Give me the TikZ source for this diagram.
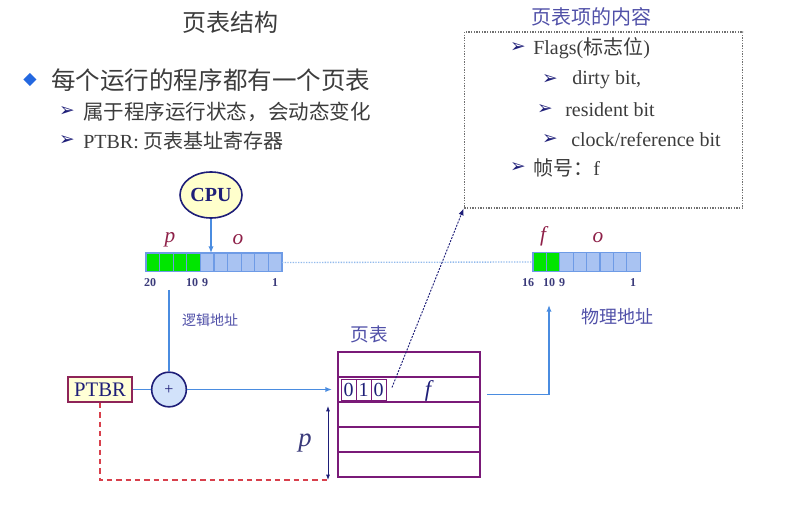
\documentclass[tikz,border=0pt]{standalone}
\usepackage{fontspec}
\setmainfont{Liberation Serif}
\newfontfamily\cjk{Noto Sans CJK SC}
\newfontfamily\dejavu{DejaVu Sans}
\usetikzlibrary{arrows.meta,positioning,calc,shapes.geometric}
\newcommand{\fsz}[1]{\fontsize{#1}{#1}\selectfont}
\definecolor{txtgray}{HTML}{3C3C3C}
\definecolor{navy}{HTML}{1E1E78}
\definecolor{lblblue}{HTML}{5050A8}
\definecolor{numblue}{HTML}{3A3A7A}
\definecolor{lineblue}{HTML}{4A8CE0}
\definecolor{regblue}{HTML}{A9C3F2}
\definecolor{regedge}{HTML}{6E9BE6}
\definecolor{bitgreen}{HTML}{00E600}
\definecolor{tblpurple}{HTML}{7A1A78}
\definecolor{dashred}{HTML}{D8404C}
\definecolor{cpufill}{HTML}{FFFFCC}
\definecolor{addfill}{HTML}{D2E2FA}
\definecolor{ptbrfill}{HTML}{FFFFD6}
\definecolor{ptbredge}{HTML}{8E2458}
\definecolor{varred}{HTML}{8E2048}
\definecolor{diamblue}{HTML}{2468E0}
\definecolor{boxgray}{HTML}{707070}
\tikzset{
  heading/.style ={font=\cjk\fsz{18},text=txtgray,inner sep=0},
  dmark/.style   ={font=\dejavu\fsz{13},text=diamblue,inner sep=0},
  abullet/.style ={font=\dejavu\fsz{14},text=navy,inner sep=0},
  bigline/.style ={font=\fsz{18.4},text=txtgray,anchor=west,inner sep=0},
  midline/.style ={font=\fsz{15},text=txtgray,anchor=west,inner sep=0},
  lbl/.style     ={text=lblblue,inner sep=0},
  num/.style     ={font=\bfseries\fsz{9},text=numblue,inner sep=0},
  var/.style     ={font=\itshape\fsz{16},text=varred,inner sep=0},
  cell/.style    ={draw=regedge,fill=regblue,line width=0.8pt,inner sep=0,outer sep=0,
                   minimum height=14.2pt},
  row/.style     ={draw=tblpurple,line width=2.2pt,inner sep=0,outer sep=0,
                   minimum width=106.5pt,minimum height=18.75pt},
  bit/.style     ={draw=tblpurple,line width=0.5pt,inner sep=0,outer sep=0,font=\fsz{15},
                   text=navy,minimum width=11.2pt,minimum height=16pt},
  link/.style    ={draw=lineblue,line width=1pt},
  arr/.style     ={link,-{Latex[length=5pt,width=4pt]}},
  entrybox/.style={draw=boxgray,dash pattern=on 1pt off 1pt,line width=0.8pt,
                   minimum width=209pt,minimum height=132pt}
}
\begin{document}
\begin{tikzpicture}[x=0.75pt,y=-0.75pt]
  \useasboundingbox (0,0) rectangle (797,506);
  % heading and bullets
  \node[heading] (title) at (230,22) {页表结构};
  \node[dmark]   (d1) at (30,80) {◆};
  \node[bigline,font=\cjk\fsz{18.4}] (t1) at (51,80) {每个运行的程序都有一个页表};
  \node[abullet] (b1) at (67,112) {➢};
  \node[midline,font=\cjk\fsz{15.4}] (t2) at (83,112) {属于程序运行状态，会动态变化};
  \node[abullet] (b2) at (67,141) {➢};
  \node[midline] (t3) at (83,141) {PTBR: {\cjk 页表基址寄存器}};

  % page table entry contents
  \node[entrybox] (entry) at (603.5,120) {};
  \node[lbl,font=\cjk\fsz{15}] (etitle) at (591,17) {页表项的内容};
  \node[abullet] (e1b) at (518,48)  {➢};
  \node[midline] (e1)  at (533,48)  {Flags({\cjk 标志位})};
  \node[abullet] (e2b) at (550,80)  {➢};
  \node[midline] (e2)  at (572,80)  {dirty bit,};
  \node[abullet] (e3b) at (545,110) {➢};
  \node[midline] (e3)  at (565,110) {resident bit};
  \node[abullet] (e4b) at (550,140) {➢};
  \node[midline] (e4)  at (571,140) {clock/reference bit};
  \node[abullet] (e5b) at (518,168) {➢};
  \node[midline] (e5)  at (533,168) {{\cjk 帧号：}f};

  % CPU and logical address
  \node[ellipse,draw=navy,fill=cpufill,line width=1.2pt,minimum width=46.5pt,minimum height=34.5pt,
        font=\bfseries\fsz{15},text=navy,inner sep=0] (cpu) at (211,195) {CPU};
  \foreach \i in {1,...,4}
    \node[cell,fill=bitgreen,minimum width=10.2pt] (la\i) at ({146+13.6*(\i-0.5)},262.5) {};
  \foreach \i in {5,...,10}
    \node[cell,minimum width=10.2pt] (la\i) at ({146+13.6*(\i-0.5)},262.5) {};
  \node[var] (lp) at (170,240) {p};
  \node[var] (lo) at (238,240) {o};
  \node[num] (lhi)   at (150,283) {20};
  \node[num] (lmid)  at (192,283) {10};
  \node[num] (lnine) at (205,283) {9};
  \node[num] (llo)   at (275,283) {1};
  \node[lbl,font=\cjk\fsz{10.5}] (laddr) at (210,320) {逻辑地址};

  % physical address
  \foreach \i in {1,2}
    \node[cell,fill=bitgreen,minimum width=10.05pt] (pa\i) at ({533+13.4*(\i-0.5)},262) {};
  \foreach \i in {3,...,8}
    \node[cell,minimum width=10.05pt] (pa\i) at ({533+13.4*(\i-0.5)},262) {};
  \node[var] (pf) at (543,236) {f};
  \node[var] (po) at (598,238) {o};
  \node[num] (phi)   at (528,283) {16};
  \node[num] (pn10)  at (549,283) {10};
  \node[num] (pnine) at (562,283) {9};
  \node[num] (plo)   at (633,283) {1};
  \node[lbl,font=\cjk\fsz{13.5}] (paddr) at (617,317) {物理地址};

  % PTBR and adder
  \node[draw=ptbredge,fill=ptbrfill,line width=1.3pt,minimum width=48pt,minimum height=18.75pt,
        inner sep=0,font=\fsz{15.5},text=navy] (ptbr) at (100,389.5) {PTBR};
  \node[circle,draw=navy,fill=addfill,line width=1.2pt,minimum size=26pt,inner sep=0,
        font=\fsz{12},text=navy] (adder) at (169,389.5) {+};

  % page table
  \foreach \i in {1,...,5}
    \node[row] (row\i) at (409,{352+25*(\i-0.5)}) {};
  \node[lbl,font=\cjk\fsz{14}] (ptlabel) at (369,334) {页表};
  \node[bit] (bit1) at (348.5,389.5) {0};
  \node[bit] (bit2) at (363.5,389.5) {1};
  \node[bit] (bit3) at (378.5,389.5) {0};
  \node[font=\itshape\fsz{17},text=navy,inner sep=0] (frame) at (428,391) {f};
  \node[font=\itshape\fsz{20},text=numblue,inner sep=0] (poff) at (305,443) {p};

  % connectors
  \coordinate (ltap)  at (169,290);
  \coordinate (pin)   at (549,305);
  \coordinate (tout)  at ($(row2.east)+(7,5)$);
  \coordinate (fptr)  at ($(bit3.east)+(6,-2)$);
  \coordinate (pbase) at ($(row5.south west)+(-10,3)$);
  \coordinate (ptop)  at ($(row3.north west)+(-10,4)$);
  \draw[arr] (cpu) -- (cpu |- la5.north);
  \draw[draw=lineblue!60,line width=1pt,dash pattern=on 1pt off 1pt] (la10.east) -- (pa1.west);
  \draw[link] (ltap) -- (adder);
  \draw[link] (ptbr) -- (adder);
  \draw[arr] (adder) -- ($(row2.west)+(-6,0)$);
  \draw[arr] (tout) -| (pin);
  \draw[draw=dashred,line width=1pt,dash pattern=on 4pt off 3pt] (ptbr.south) |- (pbase);
  \draw[draw=navy,line width=0.7pt,{Latex[length=4pt,width=3pt]}-{Latex[length=4pt,width=3pt]}] (pbase) -- (ptop);
  \draw[draw=navy,line width=0.7pt,dash pattern=on 1.5pt off 1pt,-{Latex[length=5pt,width=4pt]}] (fptr) -- (entry.south west);
\end{tikzpicture}
\end{document}
